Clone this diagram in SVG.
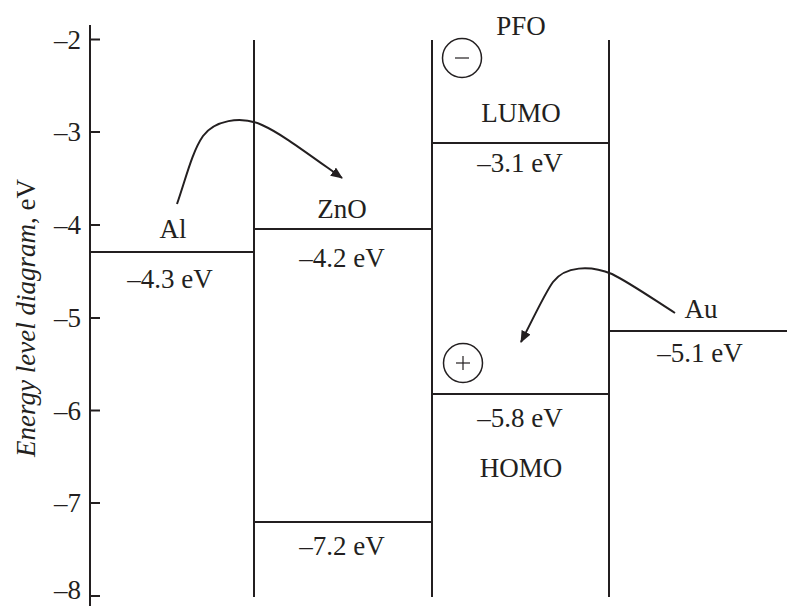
<svg xmlns="http://www.w3.org/2000/svg" width="787" height="606" viewBox="0 0 787 606">
<defs>
<style>
.ln{stroke:#231f20;stroke-width:2;fill:none}
.t{font-family:"Liberation Serif","Times New Roman",serif;font-size:27px;fill:#231f20;text-anchor:middle}
.tk{font-family:"Liberation Serif","Times New Roman",serif;font-size:27px;fill:#231f20;text-anchor:end}
</style>
<marker id="ah" viewBox="0 0 12 10" refX="11" refY="5" markerWidth="12" markerHeight="10" markerUnits="userSpaceOnUse" orient="auto">
<path d="M0,0 L12,5 L0,10 Z" fill="#231f20"/>
</marker>
</defs>
<rect width="787" height="606" fill="#fff"/>
<g id="axis">
<line class="ln" x1="90" y1="25" x2="90" y2="606"/>
<line class="ln" x1="90" y1="39.5" x2="100" y2="39.5"/>
<line class="ln" x1="90" y1="132" x2="100" y2="132"/>
<line class="ln" x1="90" y1="225" x2="100" y2="225"/>
<line class="ln" x1="90" y1="318" x2="100" y2="318"/>
<line class="ln" x1="90" y1="410.5" x2="100" y2="410.5"/>
<line class="ln" x1="90" y1="503" x2="100" y2="503"/>
<line class="ln" x1="90" y1="596" x2="100" y2="596"/>
<text class="tk" x="81" y="49">–2</text>
<text class="tk" x="81" y="141">–3</text>
<text class="tk" x="81" y="234">–4</text>
<text class="tk" x="81" y="327">–5</text>
<text class="tk" x="81" y="420">–6</text>
<text class="tk" x="81" y="512">–7</text>
<text class="tk" x="81" y="599">–8</text>
<text class="t" transform="translate(35,318) rotate(-90)"><tspan font-style="italic">Energy level diagram</tspan>, eV</text>
</g>
<g id="Al">
<line class="ln" x1="90" y1="252" x2="254" y2="252"/>
<text class="t" x="173" y="238">Al</text>
<text class="t" x="170" y="288">–4.3 eV</text>
</g>
<g id="ZnO">
<line class="ln" x1="254" y1="40" x2="254" y2="597"/>
<line class="ln" x1="432" y1="40" x2="432" y2="597"/>
<line class="ln" x1="254" y1="229" x2="432" y2="229"/>
<line class="ln" x1="254" y1="522" x2="432" y2="522"/>
<text class="t" x="342" y="218">ZnO</text>
<text class="t" x="342" y="267">–4.2 eV</text>
<text class="t" x="342" y="555">–7.2 eV</text>
</g>
<g id="PFO">
<line class="ln" x1="609" y1="40" x2="609" y2="597"/>
<line class="ln" x1="432" y1="143" x2="609" y2="143"/>
<line class="ln" x1="432" y1="394" x2="609" y2="394"/>
<text class="t" x="521" y="35">PFO</text>
<text class="t" x="521" y="122">LUMO</text>
<text class="t" x="520" y="172">–3.1 eV</text>
<text class="t" x="520" y="427">–5.8 eV</text>
<text class="t" x="521" y="477">HOMO</text>
<circle cx="462" cy="58" r="19.5" stroke="#231f20" stroke-width="1.5" fill="none"/>
<line x1="455" y1="58" x2="469" y2="58" stroke="#231f20" stroke-width="1.2"/>
<circle cx="463" cy="363" r="19.5" stroke="#231f20" stroke-width="1.5" fill="none"/>
<line x1="456" y1="363" x2="470" y2="363" stroke="#231f20" stroke-width="1.2"/>
<line x1="463" y1="356" x2="463" y2="370" stroke="#231f20" stroke-width="1.2"/>
</g>
<g id="Au">
<line class="ln" x1="609" y1="331" x2="787" y2="331"/>
<text class="t" x="701" y="318">Au</text>
<text class="t" x="700" y="362">–5.1 eV</text>
</g>
<g id="connectors">
<path class="ln" d="M177,204 C186,178 192,152 203,136 C214,121 240,115 262,125 C280,133 300,148 342,178" marker-end="url(#ah)"/>
<path class="ln" d="M675,313 C650,297 630,283 612,274 C590,265 565,266 553,282 C545,293 535,315 521,342" marker-end="url(#ah)"/>
</g>
</svg>
